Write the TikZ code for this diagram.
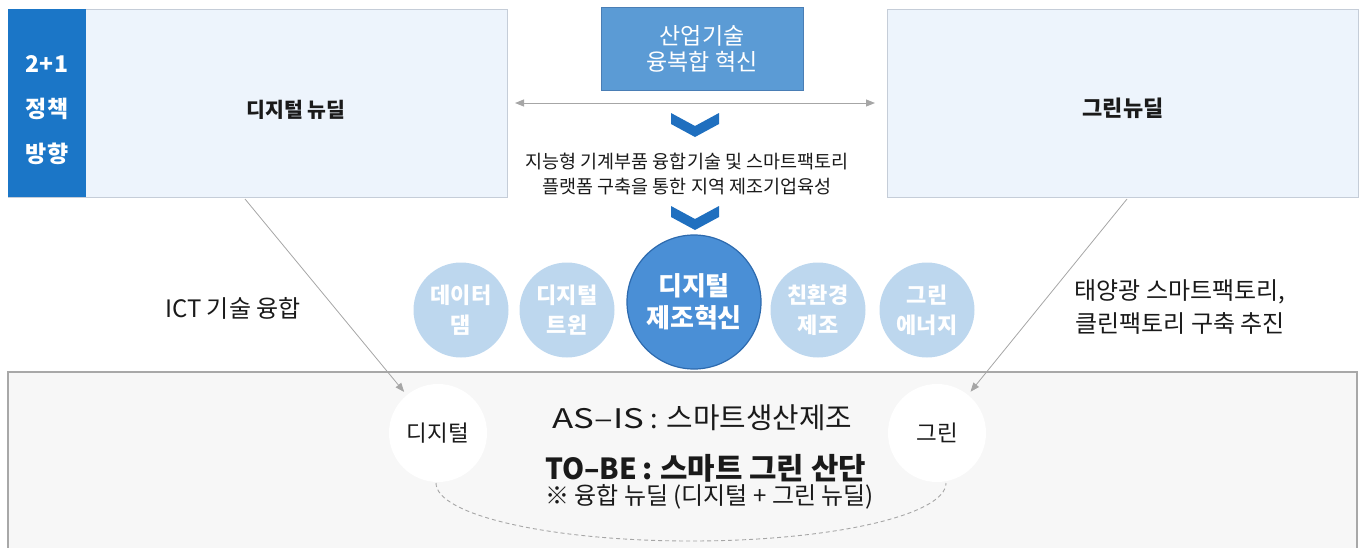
\documentclass[tikz,border=0pt]{standalone}
\usepackage{graphicx}
\usepackage{fontspec}
\setmainfont{Noto Sans CJK KR}
\usetikzlibrary{arrows.meta}
\definecolor{stripblue}{HTML}{1B76C7}
\definecolor{boxfill}{HTML}{EDF4FC}
\definecolor{boxline}{HTML}{C5CDD8}
\definecolor{topfill}{HTML}{5B9BD5}
\definecolor{topline}{HTML}{4A7EB5}
\definecolor{chevblue}{HTML}{1F6FBF}
\definecolor{smallcirc}{HTML}{BDD7EE}
\definecolor{bigfill}{HTML}{4A8FD6}
\definecolor{bigline}{HTML}{2D6AAE}
\definecolor{botfill}{HTML}{F7F7F7}
\definecolor{botline}{HTML}{A8A8A8}
\definecolor{arrgray}{HTML}{A6A6A6}
\definecolor{txt}{HTML}{1A1A1A}
\newcommand\chevronat[2]{\fill[chevblue] (#1-24,#2) -- (#1,#2+13) -- (#1+24,#2) -- (#1+24,#2+11) -- (#1,#2+24) -- (#1-24,#2+11) -- cycle;}
\begin{document}
\begin{tikzpicture}[x=1pt,y=-1pt,
  box/.style={draw=boxline, fill=boxfill, line width=0.8pt, inner sep=0pt, outer sep=0pt},
  stripbox/.style={fill=stripblue, inner sep=0pt, outer sep=0pt},
  striptext/.style={text=white, align=center, font=\fontsize{23}{45}\selectfont\bfseries},
  title/.style={text=txt, font=\fontsize{20.5}{24}\selectfont\bfseries},
  topbox/.style={draw=topline, fill=topfill, line width=0.8pt, text=white, align=center,
     font=\fontsize{23}{26}\selectfont, inner sep=0pt, outer sep=0pt},
  midtext/.style={text=txt, align=center, font=\fontsize{18.5}{25}\selectfont},
  sidetext/.style={text=txt, align=center, font=\fontsize{24}{33}\selectfont},
  scirc/.style={circle, fill=smallcirc, minimum size=95pt, inner sep=0pt, text=white, align=center,
     font=\fontsize{22}{30}\selectfont\bfseries},
  bcirc/.style={circle, fill=bigfill, draw=bigline, line width=1.2pt, minimum size=134pt, inner sep=0pt,
     text=white, align=center, font=\fontsize{26}{32}\selectfont\bfseries},
  wcirc/.style={circle, fill=white, minimum size=98pt, inner sep=0pt, text=txt,
     font=\fontsize{22.5}{24}\selectfont},
  botbox/.style={draw=botline, fill=botfill, line width=1.2pt, inner sep=0pt, outer sep=0pt},
  bottext/.style={text=txt, anchor=west, inner sep=0pt},
  garr/.style={draw=arrgray, line width=0.8pt, -{Triangle[length=9pt,width=7pt]}},
  darr/.style={draw=arrgray, line width=1pt, {Triangle[length=9pt,width=7pt]}-{Triangle[length=9pt,width=7pt]}},
  dashline/.style={draw=arrgray, line width=0.9pt, dash pattern=on 4pt off 3pt}
]
\useasboundingbox (0,0) rectangle (1360,547);
% top boxes
\node[box, minimum width=499pt, minimum height=188pt] (lbox) at (257.5,103) {};
\node[stripbox, minimum width=78pt, minimum height=188pt] (strip) at (47,103) {};
\node[striptext] (striplab) at (47,110) {2+1\\정책\\방향};
\node[title] (ltitle) at (296,110) {디지털 뉴딜};
\node[box, minimum width=471pt, minimum height=188pt] (rbox) at (1122.5,103) {};
\node[title, font=\fontsize{22}{24}\selectfont\bfseries] (rtitle) at (1123,108) {그린뉴딜};
\node[topbox, minimum width=202pt, minimum height=83pt] (tbox) at (702,48.5) {산업기술\\융복합 혁신};
\draw[darr] ([xshift=8pt]lbox.east) -- ([xshift=-12pt]rbox.west);
\chevronat{695}{113}
\node[midtext] (mid) at (687,174.5) {지능형 기계부품 융합기술 및 스마트팩토리\\플랫폼 구축을 통한 지역 제조기업육성};
\chevronat{695}{206}
% bottom box
\node[botbox, minimum width=1349pt, minimum height=190pt] (bbox) at (682.5,467) {};
% circles
\node[scirc] (c1) at (461,310) {데이터\\댐};
\node[scirc] (c2) at (567,310) {디지털\\트윈};
\node[scirc] (c3) at (818,310) {친환경\\제조};
\node[scirc] (c4) at (927,310) {그린\\에너지};
\node[bcirc] (cc) at (694,302) {디지털\\제조혁신};
\node[wcirc] (dig) at (438,433) {디지털};
\node[wcirc] (grn) at (937,433) {그린};
% texts
\node[sidetext] (ict) at (233,308) {ICT 기술 융합};
\node[sidetext] (sun) at (1180,307) {태양광 스마트팩토리,\\클린팩토리 구축 추진};
\node[bottext, font=\fontsize{28.8}{30}\selectfont] (asis) at (552,418)
  {{\fontsize{27}{30}\selectfont\resizebox{92pt}{\height}{AS–IS}\hspace{6pt}:}\hspace{9pt}스마트생산제조};
\node[bottext, font=\fontsize{29.8}{30}\selectfont\bfseries] (tobe) at (545,468)
  {{\fontsize{29}{30}\selectfont\resizebox{92pt}{\height}{TO–BE}\hspace{5pt}:}\hspace{8pt}스마트 그린 산단};
\node[bottext, font=\fontsize{24}{26}\selectfont] (note) at (545,497) {※ 융합 뉴딜 (디지털 + 그린 뉴딜)};
% connectors
\coordinate (lstart) at (245,199);
\coordinate (rstart) at (1127,199);
\draw[garr, shorten >=4pt] (lstart) -- (dig);
\draw[garr, shorten >=4pt] (rstart) -- (grn);
\coordinate (dl) at (436,483);
\coordinate (dr) at (946,483);
\draw[dashline] (dl) .. controls (436,515) and (550,541) .. (691,541) .. controls (832,541) and (946,515) .. (dr);
\end{tikzpicture}
\end{document}
